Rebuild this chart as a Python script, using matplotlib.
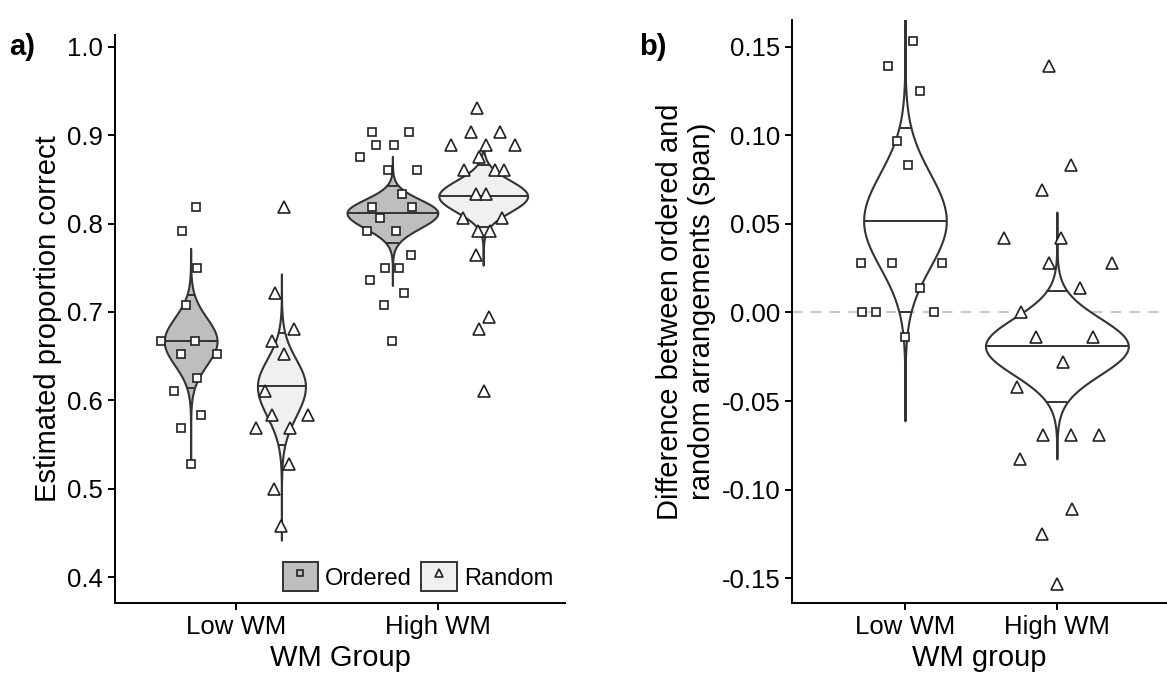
import numpy as np
import matplotlib
matplotlib.use("Agg")
import matplotlib.pyplot as plt
from matplotlib.patches import Patch
from matplotlib.lines import Line2D

plt.rcParams['font.family'] = ['Liberation Sans', 'DejaVu Sans']
plt.rcParams['axes.unicode_minus'] = False

# ---- data ----
groups = ['Low WM', 'High WM']

# panel a: individual estimates (proportion correct)
low_ordered = [0.819, 0.792, 0.750, 0.708, 0.667, 0.667, 0.653, 0.653, 0.625, 0.611, 0.583, 0.569, 0.528]
low_ordered_jit = [0.028, -0.041, 0.033, -0.021, -0.145, 0.020, -0.046, 0.132, 0.031, -0.083, 0.050, -0.046, 0.0]
low_random = [0.819, 0.722, 0.681, 0.667, 0.653, 0.611, 0.583, 0.583, 0.569, 0.569, 0.528, 0.500, 0.458]
low_random_jit = [0.015, -0.031, 0.061, -0.046, 0.011, -0.083, -0.045, 0.132, -0.127, 0.043, 0.036, -0.035, 0.0]
high_ordered = [0.903, 0.903, 0.889, 0.889, 0.875, 0.861, 0.861, 0.833, 0.819, 0.819,
                0.806, 0.792, 0.792, 0.764, 0.750, 0.750, 0.736, 0.722, 0.708, 0.667]
high_ordered_jit = [-0.100, 0.081, -0.079, 0.010, -0.163, -0.021, 0.124, 0.048, -0.100, 0.098,
                    -0.061, -0.124, 0.018, 0.094, -0.038, 0.035, -0.109, 0.058, -0.043, 0.0]
high_random = [0.931, 0.903, 0.903, 0.889, 0.889, 0.889, 0.875, 0.861, 0.861, 0.861,
               0.833, 0.833, 0.806, 0.806, 0.792, 0.792, 0.764, 0.694, 0.681, 0.611]
high_random_jit = [-0.031, -0.061, 0.081, -0.160, 0.015, 0.158, -0.023, -0.094, 0.059, 0.104,
                   -0.038, 0.015, -0.100, 0.093, -0.026, 0.033, -0.035, 0.028, -0.021, 0.003]

# posterior summaries: mean, 95% lower, 95% upper, tail min, tail max
post_low_ordered = [0.667, 0.614, 0.719, 0.525, 0.772]
post_low_random = [0.616, 0.550, 0.676, 0.442, 0.743]
post_high_ordered = [0.812, 0.778, 0.842, 0.730, 0.876]
post_high_random = [0.831, 0.796, 0.866, 0.753, 0.889]

# panel b: ordered - random difference (span)
diff_low = [0.153, 0.139, 0.125, 0.097, 0.083, 0.028, 0.028, 0.028, 0.014, 0.0, 0.0, 0.0, -0.014]
diff_low_jit = [0.051, -0.114, 0.099, -0.055, 0.018, -0.288, -0.084, 0.245, 0.099, -0.285, -0.193, 0.191, 0.0]
diff_high = [0.139, 0.083, 0.069, 0.042, 0.042, 0.028, 0.028, 0.014, 0.0, -0.014,
             -0.014, -0.028, -0.042, -0.069, -0.069, -0.069, -0.083, -0.111, -0.125, -0.153]
diff_high_jit = [-0.051, 0.095, -0.095, -0.349, 0.025, -0.052, 0.364, 0.149, -0.238, -0.138,
                 0.236, 0.041, -0.265, -0.093, 0.091, 0.276, -0.240, 0.102, -0.095, 0.0]
post_diff_low = [0.0517, 0.0003, 0.1042, -0.0612, 0.17]
post_diff_high = [-0.0191, -0.0506, 0.0120, -0.0827, 0.0567]

EDGE = '#333333'


def bean(ax, x, post, hw, fc):
    mean, lo, hi, ymin, ymax = post
    ys = np.linspace(ymin, ymax, 600)
    sd = np.where(ys < mean, (mean - lo) / 1.96, (hi - mean) / 1.96)
    w = hw * np.exp(-0.5 * ((ys - mean) / sd) ** 2)
    ax.fill_betweenx(ys, x - w, x + w, facecolor=fc, edgecolor=EDGE, lw=1.5, zorder=2)
    for yv in (mean, lo, hi):
        wv = np.interp(yv, ys, w)
        ax.plot([x - wv, x + wv], [yv, yv], color=EDGE, lw=1.4, zorder=3, solid_capstyle='butt')


def points(ax, x, vals, jit, marker, ms):
    xs = [x + j for j in jit]
    ax.plot(xs, vals, linestyle='none', marker=marker, ms=ms, mfc='white',
            mec='#222222', mew=1.2, zorder=4)


def style(ax):
    for s in ('top', 'right'):
        ax.spines[s].set_visible(False)
    for s in ('left', 'bottom'):
        ax.spines[s].set_linewidth(1.4)
    ax.tick_params(length=5, width=1.4, labelsize=18.5, colors='black')


fig = plt.figure(figsize=(11.67, 6.85), dpi=100)
axa = fig.add_axes([0.0985, 0.1197, 0.3856, 0.829])
axb = fig.add_axes([0.679, 0.1197, 0.321, 0.851])

# ---- panel a ----
dodge = 0.225
bean(axa, 1 - dodge, post_low_ordered, 0.131, '#BEBEBE')
bean(axa, 1 + dodge, post_low_random, 0.119, '#F0F0F0')
bean(axa, 2 - dodge, post_high_ordered, 0.225, '#BEBEBE')
bean(axa, 2 + dodge, post_high_random, 0.220, '#F0F0F0')
points(axa, 1 - dodge, low_ordered, low_ordered_jit, 's', 6)
points(axa, 1 + dodge, low_random, low_random_jit, '^', 8)
points(axa, 2 - dodge, high_ordered, high_ordered_jit, 's', 6)
points(axa, 2 + dodge, high_random, high_random_jit, '^', 8)

axa.set_xlim(0.40, 2.63)
axa.set_ylim(0.371, 1.013)
axa.set_xticks([1, 2])
axa.set_xticklabels(groups)
axa.set_yticks([0.4, 0.5, 0.6, 0.7, 0.8, 0.9, 1.0])
axa.set_yticklabels(['0.4', '0.5', '0.6', '0.7', '0.8', '0.9', '1.0'])
axa.set_xlabel('WM Group', fontsize=21)
axa.set_ylabel('Estimated proportion correct', fontsize=21)
style(axa)

h_ord = (Patch(facecolor='#BEBEBE', edgecolor=EDGE, lw=1.4),
         Line2D([], [], linestyle='none', marker='s', ms=4.5, mfc='none', mec='#222222', mew=1.2))
h_rnd = (Patch(facecolor='#F0F0F0', edgecolor=EDGE, lw=1.4),
         Line2D([], [], linestyle='none', marker='^', ms=6, mfc='none', mec='#222222', mew=1.2))
axa.legend([h_ord, h_rnd], ['Ordered', 'Random'], loc='lower right', ncol=2, frameon=False,
           fontsize=17, handlelength=1.5, handleheight=1.5, handletextpad=0.3,
           columnspacing=0.4, borderaxespad=0.1, bbox_to_anchor=(1.0, 0.0))

# ---- panel b ----
axb.axhline(0, color='#C8C8C8', lw=1.5, ls=(0, (5, 4)), zorder=1)
bean(axb, 1, post_diff_low, 0.272, 'white')
bean(axb, 2, post_diff_high, 0.47, 'white')
points(axb, 1, diff_low, diff_low_jit, 's', 6)
points(axb, 2, diff_high, diff_high_jit, '^', 8)

axb.set_xlim(0.259, 2.725)
axb.set_ylim(-0.164, 0.165)
axb.set_xticks([1, 2])
axb.set_xticklabels(groups)
axb.set_yticks([-0.15, -0.10, -0.05, 0.0, 0.05, 0.10, 0.15])
axb.set_yticklabels(['%.2f' % v for v in [-0.15, -0.10, -0.05, 0.0, 0.05, 0.10, 0.15]])
axb.set_xlabel('WM group', fontsize=21)
axb.set_ylabel('Difference between ordered and\nrandom arrangements (span)', fontsize=21)
style(axb)

fig.text(0.008, 0.92, 'a)', fontsize=21, fontweight='bold')
fig.text(0.548, 0.92, 'b)', fontsize=21, fontweight='bold')

fig.savefig('out.png', dpi=100)
